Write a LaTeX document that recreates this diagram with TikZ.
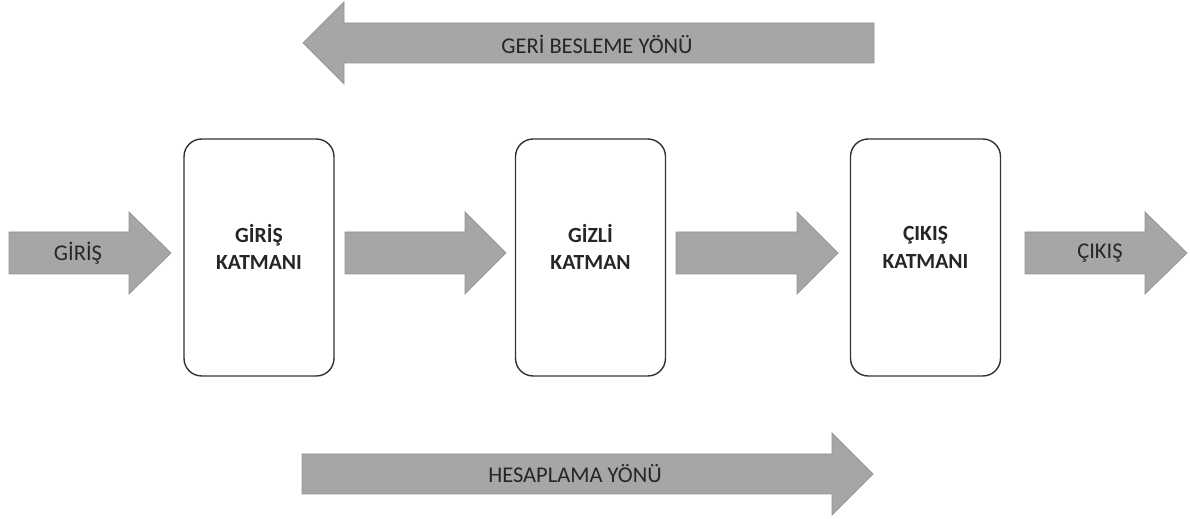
\documentclass[tikz,border=0pt]{standalone}
\usepackage{fontspec}
\setmainfont{Carlito}

\begin{document}
\begin{tikzpicture}[x=0.02cm,y=-0.02cm,
  layer/.style={draw=black!80,line width=0.8pt,rounded corners=10pt,minimum width=3cm,minimum height=4.74cm,fill=white},
  layertext/.style={align=center,font=\bfseries\fontsize{12.3}{15.9}\selectfont,text=black!85},
  arrowtext/.style={font=\fontsize{12.8}{15}\selectfont,text=black!85},
  blockarrow/.style={fill=gray!70,draw=gray!85,line width=0.4pt}]

\useasboundingbox (0,0) rectangle (1190,519);

% Direction arrows
\draw[blockarrow] (874,23) -- (344,23) -- (344,2) -- (303,43) -- (344,84) -- (344,63) -- (874,63) -- cycle;
\node[arrowtext] (geri) at (597,44) {GERİ BESLEME YÖNÜ};

\draw[blockarrow] (302,454) -- (832,454) -- (832,433) -- (873,474) -- (832,515) -- (832,494) -- (302,494) -- cycle;
\node[arrowtext] (hesap) at (575,474) {HESAPLAMA YÖNÜ};

% Layers
\node[layer] (giris) at (259,257.5) {};
\node[layer] (gizli) at (590.5,257.5) {};
\node[layer] (cikis) at (925.5,257.5) {};

\node[layertext] (girisT) at (259,247) {GİRİŞ\\KATMANI};
\node[layertext] (gizliT) at (590.5,247) {GİZLİ\\KATMAN};
\node[layertext] (cikisT) at (925.5,247) {ÇIKIŞ\\KATMANI};

% Flow arrows
\draw[blockarrow] (9,232) -- (129,232) -- (129,212) -- (171,253) -- (129,294) -- (129,274) -- (9,274) -- cycle;
\node[arrowtext] (in) at (78,253) {GİRİŞ};

\draw[blockarrow] (345,232) -- (465,232) -- (465,212) -- (506,253) -- (465,294) -- (465,274) -- (345,274) -- cycle;
\draw[blockarrow] (676,232) -- (797,232) -- (797,212) -- (838,253) -- (797,294) -- (797,274) -- (676,274) -- cycle;

\draw[blockarrow] (1025,232) -- (1145,232) -- (1145,212) -- (1187,253) -- (1145,294) -- (1145,274) -- (1025,274) -- cycle;
\node[arrowtext] (out) at (1100,253) {ÇIKIŞ};

\end{tikzpicture}
\end{document}
